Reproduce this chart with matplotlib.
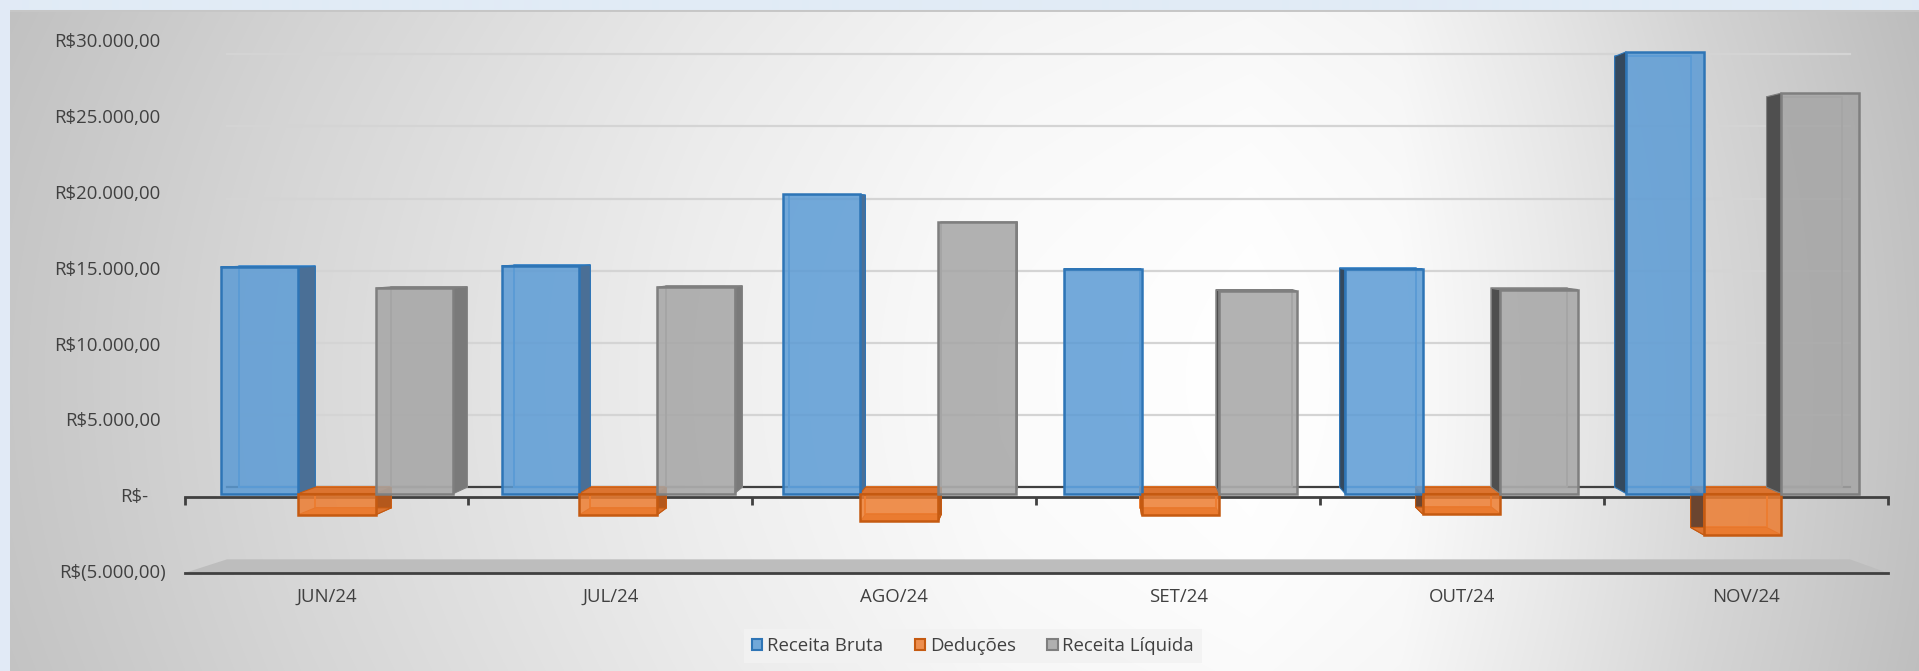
import numpy as np
import matplotlib
matplotlib.use("Agg")
import matplotlib.pyplot as plt
import matplotlib.transforms as mtransforms
from matplotlib.patches import Patch
from matplotlib.colors import to_rgba

# dados do grafico
meses = ["JUN/24", "JUL/24", "AGO/24", "SET/24", "OUT/24", "NOV/24"]
receita_bruta = [15300, 15380, 20220, 15140, 15160, 29840]
deducoes = [-1430, -1440, -1880, -1450, -1380, -2790]
receita_liquida = [13880, 13940, 18340, 13690, 13780, 27050]
series_nomes = ["Receita Bruta", "Deduções", "Receita Líquida"]
y_ticks = [-5000, 0, 5000, 10000, 15000, 20000, 25000, 30000]
y_labels = ["R$(5.000,00)", "R$-", "R$5.000,00", "R$10.000,00", "R$15.000,00",
            "R$20.000,00", "R$25.000,00", "R$30.000,00"]

series = [receita_bruta, deducoes, receita_liquida]
face = ["#5b9bd5", "#ed7d31", "#a5a5a5"]
edge = ["#2e75b6", "#c55a11", "#7f7f7f"]
side_light = ["#4a6f96", "#b4581c", "#7a7a7a"]
side_dark = ["#34495e", "#6b4530", "#4f4f4f"]
cap_col = ["#4a84bd", "#dc7430", "#8c8c8c"]
txt = "#404040"
FS = 13.4

plt.rcParams["font.family"] = ["Open Sans", "DejaVu Sans"]

W_PX, H_PX = 1919, 671
fig = plt.figure(figsize=(W_PX / 100, H_PX / 100), dpi=100)

# fundo com degrade
bg = fig.add_axes([0, 0, 1, 1], zorder=-5)
xs = np.arange(W_PX)
ys = np.arange(H_PX)
prof = np.interp(xs, [10, 300, 700, 1000, 1250, 1400, 1550, 1700, 1919],
                 [0.78, 0.85, 0.935, 0.985, 1.0, 0.985, 0.92, 0.85, 0.76])
vert = 1 - 0.03 * ((ys[:, None] - 380) / 380.0) ** 2
img = np.clip(prof[None, :] * vert, 0, 1)
rgb = np.dstack([img, img, img])
rgb[:10, :, :] = np.array([225, 235, 246]) / 255
rgb[:, :10, :] = np.array([225, 235, 246]) / 255
rgb[10:12, 10:, :] = 0.78
bg.imshow(rgb, aspect="auto", extent=(0, 1, 0, 1), interpolation="bilinear")
bg.set_axis_off()

ax = fig.add_axes([184.5 / W_PX, (H_PX - 573) / H_PX, (1888 - 184.5) / W_PX, (573 - 42.2) / H_PX])
ax.set_xlim(0, 6)
ax.set_ylim(-5000, 30000)
ax.patch.set_visible(False)

# perspectiva (parede do fundo / frente das barras)
VP = 3.2
K = 0.0214


def wall_x(x):
    return 0.1497 + 0.9527 * x


def back_x(x):
    return x + K * (VP - x)


def front_y(v):
    return 240 + 0.976 * v


def back_y(v):
    return 659 + 0.9517 * v


# linhas de grade na parede do fundo
for t in y_ticks[2:]:
    ax.plot([wall_x(0), wall_x(6)], [back_y(t), back_y(t)], color="#d4d4d4", lw=1.6, zorder=1)
ax.plot([wall_x(0), wall_x(6)], [back_y(0), back_y(0)], color=txt, lw=1.6, zorder=1)

# piso inferior
ax.fill([0, 6, wall_x(6), wall_x(0)], [-5000, -5000, back_y(-5000), back_y(-5000)],
        color="#bdbdbd", zorder=1, lw=0)
ax.plot([0, 6], [-5000, -5000], color=txt, lw=2, zorder=2, clip_on=False)

# barras 3D
X0, STEP, W = 0.1275, 0.99, 0.2733
for j, vals in enumerate(series):
    for i, v in enumerate(vals):
        x0 = X0 + i * STEP + j * W
        x1 = x0 + W
        bx0, bx1 = back_x(x0), back_x(x1)
        fy0, fy1 = front_y(0), front_y(v)
        by0, by1 = back_y(0), back_y(v)
        # arestas do fundo
        ax.plot([bx0, bx1, bx1, bx0, bx0], [by0, by0, by1, by1, by0],
                color=face[j], lw=1.4, zorder=3)
        # lateral
        if x1 < VP:
            ax.fill([x1, x1, bx1, bx1], [fy0, fy1, by1, by0], color=side_light[j], zorder=4, lw=0.8,
                    edgecolor=edge[j])
        elif x0 > VP:
            ax.fill([x0, x0, bx0, bx0], [fy0, fy1, by1, by0], color=side_dark[j], zorder=4, lw=0.8,
                    edgecolor=edge[j])
        # tampa
        if by1 > fy1:
            ax.fill([x0, x1, bx1, bx0], [fy1, fy1, by1, by1], color=cap_col[j], zorder=4, lw=0.8,
                    edgecolor=edge[j])
        if v < 0:
            ax.fill([x0, x1, bx1, bx0], [fy0, fy0, by0, by0], color=cap_col[j], zorder=4, lw=0.8,
                    edgecolor=edge[j])
        # face frontal
        ax.bar(x0, fy1 - fy0, bottom=fy0, width=W, align="edge",
               color=to_rgba(face[j], 0.85), edgecolor=edge[j], linewidth=1.8, zorder=5)

# eixo horizontal no zero
for s in ["left", "right", "top"]:
    ax.spines[s].set_visible(False)
ax.spines["bottom"].set_position(("data", 0))
ax.spines["bottom"].set_color(txt)
ax.spines["bottom"].set_linewidth(2)
ax.spines["bottom"].set_zorder(2)
ax.set_xticks(range(7))
ax.tick_params(axis="x", direction="out", length=6, width=2, color=txt, labelbottom=False)
ax.set_yticks([])

# rotulos das categorias
trans_x = mtransforms.blended_transform_factory(ax.transData, fig.transFigure)
for i, m in enumerate(meses):
    ax.text(i + 0.5, 1 - 597 / H_PX, m, transform=trans_x, ha="center", va="center",
            fontsize=FS, color=txt)

# rotulos do eixo y (formato contabil)
trans_y = mtransforms.blended_transform_factory(fig.transFigure, ax.transData)
for t, lab in zip(y_ticks, y_labels):
    if lab.endswith(")"):
        xr = 166
    elif lab == "R$-":
        xr = 148
    else:
        xr = 160.7
    ax.text(xr / W_PX, t, lab, transform=trans_y, ha="right", va="center",
            fontsize=FS, color=txt)

# legenda
handles = [Patch(facecolor=to_rgba(face[j], 0.85), edgecolor=edge[j], linewidth=1.5) for j in range(3)]
leg = fig.legend(handles, series_nomes, loc="center", bbox_to_anchor=(973 / W_PX, 1 - 646 / H_PX),
                 ncol=3, fontsize=FS, frameon=True, fancybox=False, handlelength=0.55,
                 handleheight=0.55, handletextpad=0.25, columnspacing=1.7, borderpad=0.45)
leg.get_frame().set_facecolor("#f2f2f2")
leg.get_frame().set_edgecolor("none")
leg.get_frame().set_alpha(0.85)
for t in leg.get_texts():
    t.set_color(txt)

fig.savefig("out.png", dpi=100)
